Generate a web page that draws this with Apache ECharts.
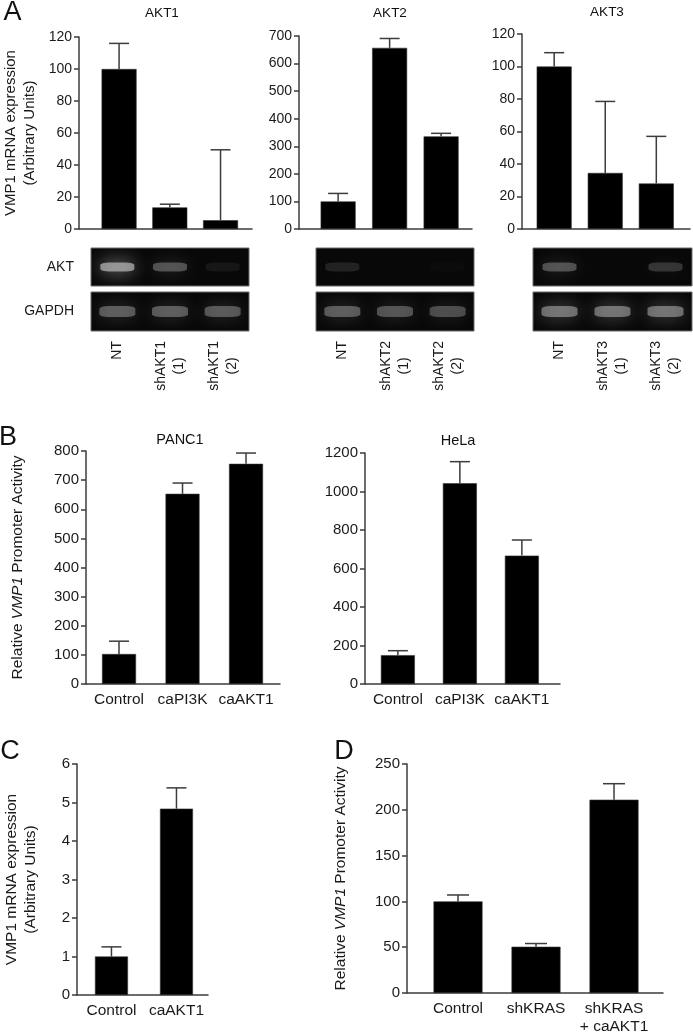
<!DOCTYPE html>
<html><head><meta charset="utf-8">
<script src="https://cdn.jsdelivr.net/npm/echarts@6/dist/echarts.min.js"></script>
<style>html,body{margin:0;padding:0;background:#fff}#c{width:693px;height:1036px}</style>
</head><body><div id="c"></div>
<script>
// ---------- DATA ----------
// Panel A (bar values + upward error magnitudes)
const akt1Cats = ['NT', 'shAKT1\n(1)', 'shAKT1\n(2)'];
const akt1Vals = [100, 13.5, 5.5];
const akt1Errs = [16, 2, 44];
const akt1Ticks = [0, 20, 40, 60, 80, 100, 120];

const akt2Cats = ['NT', 'shAKT2\n(1)', 'shAKT2\n(2)'];
const akt2Vals = [100, 657, 336];
const akt2Errs = [29, 34, 11];
const akt2Ticks = [0, 100, 200, 300, 400, 500, 600, 700];

const akt3Cats = ['NT', 'shAKT3\n(1)', 'shAKT3\n(2)'];
const akt3Vals = [100, 34.5, 28];
const akt3Errs = [8.5, 44, 29];
const akt3Ticks = [0, 20, 40, 60, 80, 100, 120];

// Gel band intensities (0..1) per lane
const gelRows = ['AKT', 'GAPDH'];
const akt1GelAKT = [1.0, 0.55, 0.12];
const akt1GelGAPDH = [0.6, 0.6, 0.58];
const akt2GelAKT = [0.22, 0, 0.03];
const akt2GelGAPDH = [0.6, 0.55, 0.5];
const akt3GelAKT = [0.55, 0, 0.35];
const akt3GelGAPDH = [0.75, 0.75, 0.75];

// Panel B
const bCats = ['Control', 'caPI3K', 'caAKT1'];
const panc1Vals = [103, 653, 756];
const panc1Errs = [44, 37, 37];
const panc1Ticks = [0, 100, 200, 300, 400, 500, 600, 700, 800];
const helaVals = [150, 1043, 667];
const helaErrs = [23, 112, 81];
const helaTicks = [0, 200, 400, 600, 800, 1000, 1200];

// Panel C
const cCats = ['Control', 'caAKT1'];
const cVals = [1.0, 4.84];
const cErrs = [0.25, 0.54];
const cTicks = [0, 1, 2, 3, 4, 5, 6];

// Panel D
const dCats = ['Control', 'shKRAS', 'shKRAS\n+ caAKT1'];
const dVals = [100, 50.5, 211];
const dErrs = [7, 3.5, 17.5];
const dTicks = [0, 50, 100, 150, 200, 250];

// ---------- BUILD ----------
const FONT = "'Liberation Sans', Arial, Helvetica, sans-serif";
const AX = '#3c3c3c';
const TXT = '#1a1a1a';
const grids = [], xAxes = [], yAxes = [], series = [], graphics = [];

function barPanel(o) {
  const gi = grids.length;
  grids.push({ left: o.left, top: o.top, width: o.width, height: o.height });
  xAxes.push({
    gridIndex: gi, type: 'value', min: o.xMin, max: o.xMax,
    axisLine: { show: true, onZero: false, lineStyle: { color: AX, width: 1.5 } },
    axisTick: { show: false }, splitLine: { show: false },
    axisLabel: o.showCats ? {
      show: true, customValues: o.cats.map((c, i) => i),
      formatter: v => o.cats[Math.round(v)],
      color: TXT, fontSize: o.catFont, fontFamily: FONT, margin: 7, lineHeight: 18
    } : { show: false }
  });
  const t = o.ticks;
  yAxes.push({
    gridIndex: gi, type: 'value', min: t[0], max: t[t.length - 1], interval: t[1] - t[0],
    axisLine: { show: true, onZero: false, lineStyle: { color: AX, width: 1.5 } },
    axisTick: { show: true, length: 5, lineStyle: { color: AX, width: 1.5 } },
    splitLine: { show: false },
    axisLabel: { color: TXT, fontSize: o.tickFont, fontFamily: FONT, margin: 7, formatter: v => String(v) },
    name: o.yName || '', nameLocation: 'middle', nameRotate: 90, nameGap: o.nameGap || 30,
    nameTextStyle: {
      color: TXT, fontSize: o.nameFont || 15, fontFamily: FONT, lineHeight: 19,
      rich: { i: { fontStyle: 'italic', fontSize: o.nameFont || 15, fontFamily: FONT, color: TXT } }
    }
  });
  series.push({
    type: 'bar', xAxisIndex: gi, yAxisIndex: gi, barWidth: o.barWidth,
    data: o.vals.map((v, i) => [i, v]),
    itemStyle: { color: '#000', borderColor: '#333', borderWidth: 0.6 }, silent: true
  });
  const cap = o.cap;
  series.push({
    type: 'custom', xAxisIndex: gi, yAxisIndex: gi, z: 3, silent: true,
    data: o.vals.map((v, i) => [i, v, v + o.errs[i]]),
    renderItem: (params, api) => {
      const x = api.value(0), v = api.value(1), e = api.value(2);
      const p0 = api.coord([x, v]), p1 = api.coord([x, e]);
      const st = { stroke: AX, lineWidth: 1.5 };
      return {
        type: 'group', children: [
          { type: 'line', shape: { x1: p0[0], y1: p0[1], x2: p1[0], y2: p1[1] }, style: st },
          { type: 'line', shape: { x1: p1[0] - cap / 2, y1: p1[1], x2: p1[0] + cap / 2, y2: p1[1] }, style: st }
        ]
      };
    }
  });
}

function laneFmt(v) {
  const p = v.split('\n');
  return p.length > 1 ? '{a|' + p[0] + '}\n{b|' + p[1] + '}' : '{a|' + p[0] + '}';
}

function gelRow(o) {
  const gi = grids.length;
  grids.push({ left: o.left, top: o.top, width: o.width, height: o.height, show: true,
    backgroundColor: '#080808', borderColor: '#6a6a6a', borderWidth: 1 });
  xAxes.push({
    gridIndex: gi, type: 'category', data: o.cats, boundaryGap: true,
    axisLine: { show: false }, axisTick: { show: false }, splitLine: { show: false },
    axisLabel: o.laneLabels ? {
      show: true, interval: 0, rotate: 90, margin: 10, formatter: laneFmt,
      rich: {
        a: { fontSize: 14, fontFamily: FONT, color: TXT, lineHeight: 18 },
        b: { fontSize: 14, fontFamily: FONT, color: TXT, lineHeight: 18, align: 'center' }
      }
    } : { show: false }
  });
  yAxes.push({
    gridIndex: gi, type: 'category', data: [o.row],
    axisLine: { show: false }, axisTick: { show: false }, splitLine: { show: false },
    axisLabel: o.rowLabel ? { show: true, fontSize: 14, fontFamily: FONT, color: TXT, margin: 17 } : { show: false }
  });
  series.push({
    type: 'scatter', xAxisIndex: gi, yAxisIndex: gi, symbol: 'roundRect', symbolSize: o.band,
    silent: true, clip: false,
    data: o.vals.map((a, i) => ({
      value: [i, 0],
      itemStyle: { color: 'rgba(225,225,225,' + (0.7 * a) + ')', shadowBlur: 18, shadowColor: 'rgba(255,255,255,' + a + ')' }
    }))
  });
}

// Panel A bars
barPanel({ left: 79, top: 37, width: 173, height: 192, xMin: -0.79, xMax: 2.62, barWidth: 35, cap: 20,
  cats: akt1Cats, vals: akt1Vals, errs: akt1Errs, ticks: akt1Ticks, tickFont: 14, showCats: false,
  yName: 'VMP1 mRNA expression\n(Arbitrary Units)', nameGap: 40, nameFont: 15 });
barPanel({ left: 299, top: 36, width: 173, height: 193, xMin: -0.76, xMax: 2.6, barWidth: 35, cap: 20,
  cats: akt2Cats, vals: akt2Vals, errs: akt2Errs, ticks: akt2Ticks, tickFont: 14, showCats: false });
barPanel({ left: 522, top: 34, width: 168, height: 195, xMin: -0.63, xMax: 2.66, barWidth: 35, cap: 20,
  cats: akt3Cats, vals: akt3Vals, errs: akt3Errs, ticks: akt3Ticks, tickFont: 14, showCats: false });

// Panel A gels
const gelDefs = [
  { left: 91, width: 158, cats: akt1Cats, akt: akt1GelAKT, gapdh: akt1GelGAPDH, rowLabel: true },
  { left: 316, width: 158, cats: akt2Cats, akt: akt2GelAKT, gapdh: akt2GelGAPDH, rowLabel: false },
  { left: 533, width: 159, cats: akt3Cats, akt: akt3GelAKT, gapdh: akt3GelGAPDH, rowLabel: false }
];
gelDefs.forEach(g => {
  gelRow({ left: g.left, top: 248, width: g.width, height: 38, cats: g.cats, row: gelRows[0],
    vals: g.akt, rowLabel: g.rowLabel, laneLabels: false, band: [34, 9] });
  gelRow({ left: g.left, top: 292, width: g.width, height: 39, cats: g.cats, row: gelRows[1],
    vals: g.gapdh, rowLabel: g.rowLabel, laneLabels: true, band: [36, 11] });
});

// Panel B
const relName = 'Relative {i|VMP1} Promoter Activity';
barPanel({ left: 86, top: 451, width: 194, height: 233, xMin: -0.52, xMax: 2.535, barWidth: 34, cap: 20,
  cats: bCats, vals: panc1Vals, errs: panc1Errs, ticks: panc1Ticks, tickFont: 15, showCats: true, catFont: 15.5,
  yName: relName, nameGap: 59, nameFont: 15.5 });
barPanel({ left: 365, top: 453, width: 195, height: 231, xMin: -0.53, xMax: 2.615, barWidth: 34, cap: 20,
  cats: bCats, vals: helaVals, errs: helaErrs, ticks: helaTicks, tickFont: 15, showCats: true, catFont: 15.5 });

// Panel C
barPanel({ left: 77, top: 764, width: 131, height: 231, xMin: -0.53, xMax: 1.485, barWidth: 33, cap: 20,
  cats: cCats, vals: cVals, errs: cErrs, ticks: cTicks, tickFont: 15, showCats: true, catFont: 15.5,
  yName: 'VMP1 mRNA expression\n(Arbitrary Units)', nameGap: 37, nameFont: 15.5 });

// Panel D
barPanel({ left: 407, top: 764, width: 256, height: 231, xMin: -0.654, xMax: 2.628, barWidth: 49, cap: 22,
  cats: dCats, vals: dVals, errs: dErrs, ticks: dTicks, tickFont: 15, showCats: true, catFont: 15.5,
  yName: relName, nameGap: 57, nameFont: 15.5 });

// Titles and panel letters
function txt(t, x, y, size) {
  graphics.push({ type: 'text', x: x, y: y, silent: true,
    style: { text: t, fontSize: size, fontFamily: FONT, fill: '#111', align: 'center', verticalAlign: 'middle' } });
}
txt('A', 12.5, 13, 27); txt('B', 8, 438, 27); txt('C', 10, 752, 27); txt('D', 344, 752, 27);
txt('AKT1', 162, 13, 13.5); txt('AKT2', 390, 13, 13.5); txt('AKT3', 607, 12, 13.5);
txt('PANC1', 180, 440, 14.5); txt('HeLa', 458, 441, 14.5);

const chart = echarts.init(document.getElementById('c'), null, { renderer: 'canvas' });
chart.setOption({
  animation: false,
  backgroundColor: '#fff',
  textStyle: { fontFamily: FONT },
  grid: grids, xAxis: xAxes, yAxis: yAxes, series: series, graphic: graphics
});
</script>
</body></html>
